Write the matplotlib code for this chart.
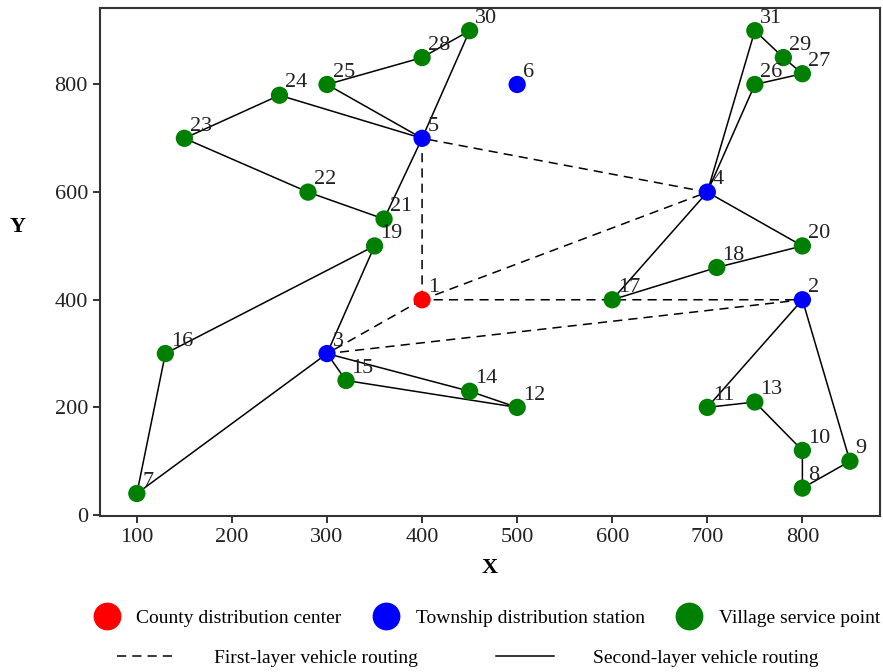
import matplotlib.pyplot as plt
from matplotlib.lines import Line2D

plt.rcParams['font.family'] = ['Liberation Serif', 'DejaVu Serif']

# node coordinates (id: x, y)
nodos = {
    1: (400, 400), 2: (800, 400), 3: (300, 300), 4: (700, 600), 5: (400, 700),
    6: (500, 800), 7: (100, 40), 8: (800, 50), 9: (850, 100), 10: (800, 120),
    11: (700, 200), 12: (500, 200), 13: (750, 210), 14: (450, 230), 15: (320, 250),
    16: (130, 300), 17: (600, 400), 18: (710, 460), 19: (350, 500), 20: (800, 500),
    21: (360, 550), 22: (280, 600), 23: (150, 700), 24: (250, 780), 25: (300, 800),
    26: (750, 800), 27: (800, 820), 28: (400, 850), 29: (780, 850), 30: (450, 900),
    31: (750, 900),
}
centro = [1]
estaciones = [2, 3, 4, 5, 6]
aldeas = [i for i in nodos if i not in centro + estaciones]

# first-layer routes (dashed)
rutas1 = [[1, 5, 4, 1], [1, 3, 2, 1]]
# second-layer routes (solid)
rutas2 = [
    [5, 24, 23, 22, 21, 5],
    [5, 25, 28, 30, 5],
    [4, 31, 29, 27, 26, 4],
    [4, 20, 18, 17, 4],
    [2, 11, 13, 10, 8, 9, 2],
    [3, 15, 12, 14, 3],
    [3, 19, 16, 7, 3],
]

fig = plt.figure(figsize=(8.83, 6.72), dpi=100)
ax = fig.add_axes([0.113, 0.232, 0.884, 0.756])

for r in rutas1:
    xs = [nodos[n][0] for n in r]
    ys = [nodos[n][1] for n in r]
    ax.plot(xs, ys, color='black', lw=1.1, ls=(0, (6, 4)), zorder=1)
for r in rutas2:
    xs = [nodos[n][0] for n in r]
    ys = [nodos[n][1] for n in r]
    ax.plot(xs, ys, color='black', lw=1.1, zorder=1)

for grupo, col in [(centro, 'red'), (estaciones, 'blue'), (aldeas, 'green')]:
    ax.scatter([nodos[n][0] for n in grupo], [nodos[n][1] for n in grupo],
               s=155, color=col, edgecolors='none', zorder=3)

for n, (x, y) in nodos.items():
    ax.annotate(str(n), (x, y), xytext=(4, 2), textcoords='offset points',
                ha='left', va='bottom', fontsize=16, color='#222222', zorder=4)

ax.set_xlim(61, 882)
ax.set_ylim(-2, 942)
ax.set_xticks([100, 200, 300, 400, 500, 600, 700, 800])
ax.set_yticks([0, 200, 400, 600, 800])
ax.tick_params(labelsize=16, direction='out', length=5, width=1.3, colors='#222222')
for s in ax.spines.values():
    s.set_linewidth(1.5)
    s.set_color('#333333')
ax.set_xlabel('X', fontsize=16, fontweight='bold', labelpad=8)
ax.set_ylabel('Y', fontsize=16, fontweight='bold', rotation=0)
ax.yaxis.set_label_coords(-0.105, 0.55)

h1 = [Line2D([], [], ls='none', marker='o', ms=19, color=c) for c in ['red', 'blue', 'green']]
fig.legend(h1, ['County distribution center', 'Township distribution station',
                'Village service point'],
           loc='center', bbox_to_anchor=(0.548, 0.08), ncol=3, frameon=False,
           fontsize=14, handletextpad=0.5, columnspacing=1.3)
h2 = [Line2D([], [], color='black', lw=1.1, ls=(0, (6, 4))),
      Line2D([], [], color='black', lw=1.1)]
fig.legend(h2, ['First-layer vehicle routing', 'Second-layer vehicle routing'],
           loc='center', bbox_to_anchor=(0.53, 0.021), ncol=2, frameon=False,
           fontsize=14, handlelength=3, handletextpad=2.0, columnspacing=4.0)

fig.savefig('out.png')
